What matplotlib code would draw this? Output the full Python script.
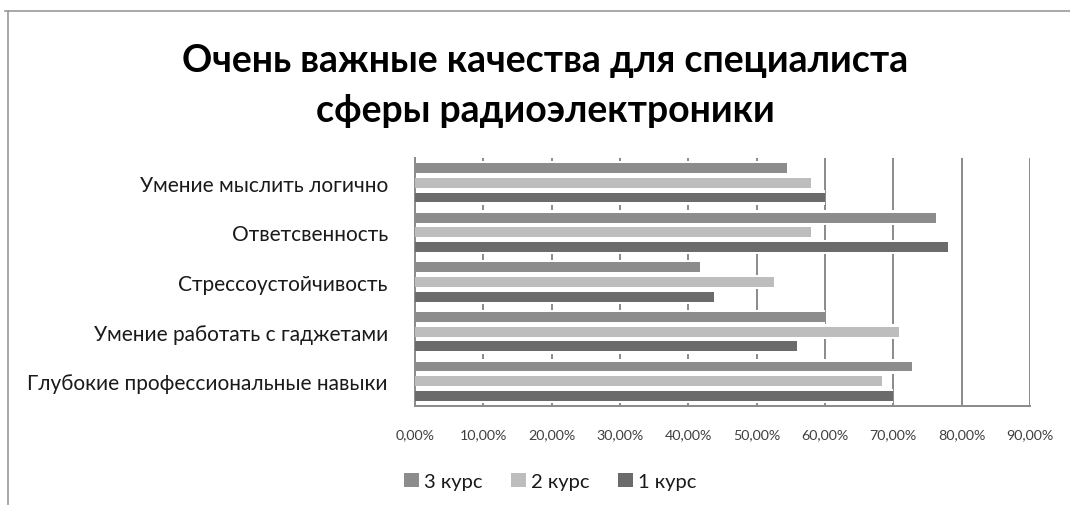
import matplotlib.pyplot as plt
import matplotlib.ticker as mtick
import numpy as np

categories = [
    "Умение мыслить логично",
    "Ответсвенность",
    "Стрессоустойчивость",
    "Умение работать с гаджетами",
    "Глубокие профессиональные навыки",
]
kurs3 = [54.5, 76.2, 41.8, 60.0, 72.7]
kurs2 = [57.9, 57.9, 52.6, 70.8, 68.3]
kurs1 = [60.0, 78.0, 43.8, 55.9, 70.0]

series = [("3 курс", kurs3, "#8c8c8c"), ("2 курс", kurs2, "#bdbdbd"), ("1 курс", kurs1, "#6b6b6b")]

plt.rcParams["font.family"] = ["Lato", "DejaVu Sans"]

fig = plt.figure(figsize=(10.70, 5.06), dpi=100)
ax = fig.add_axes([0.3877, 0.1957, 0.5748, 0.490])

y = np.arange(len(categories))[::-1]
pitch = 0.296
offsets = [pitch, 0.0, -pitch]
for (name, vals, color), off in zip(series, offsets):
    # white band behind each bar breaks the gridlines like in the original
    ax.barh(y + off, vals, height=pitch, color="white", linewidth=0, zorder=2)
    ax.barh(y + off, vals, height=0.2, color=color, linewidth=0, label=name, zorder=3)

ax.set_xlim(0, 90)
ax.set_ylim(-0.5, 4.5)
ax.set_xticks(np.arange(0, 91, 10))
ax.xaxis.set_major_formatter(mtick.FuncFormatter(lambda v, p: f"{v:.2f}%".replace(".", ",")))
ax.set_yticks(y)
ax.set_yticklabels(categories, fontsize=15, color="#1a1a1a")
ax.tick_params(axis="x", labelsize=10.3, length=0, pad=16, colors="#404040")
ax.tick_params(axis="y", length=0, pad=19.5)
ax.grid(axis="x", color="#8a8a8a", linewidth=1.4, zorder=1)
for s in ["top", "right"]:
    ax.spines[s].set_visible(False)
for s in ["left", "bottom"]:
    ax.spines[s].set_color("#8a8a8a")
    ax.spines[s].set_linewidth(1.4)

fig.text(0.509, 0.858, "Очень важные качества для специалиста",
         ha="center", va="baseline", fontsize=27, fontweight="bold")
fig.text(0.510, 0.759, "сферы радиоэлектроники",
         ha="center", va="baseline", fontsize=27, fontweight="bold")

ax.legend(loc="center", bbox_to_anchor=(0.514, 0.047), bbox_transform=fig.transFigure,
          ncol=3, frameon=False, fontsize=14.5, handlelength=0.75, handleheight=0.75,
          handletextpad=0.25, columnspacing=1.4, labelcolor="#1a1a1a")

# chart frame (top and left edges visible in the source)
fig.add_artist(plt.Line2D([0.005, 1.0], [0.976, 0.976], color="#9a9a9a", linewidth=1.2))
fig.add_artist(plt.Line2D([0.0072, 0.0072], [0.0, 0.976], color="#9a9a9a", linewidth=1.2))

fig.savefig("out.png", dpi=100)
